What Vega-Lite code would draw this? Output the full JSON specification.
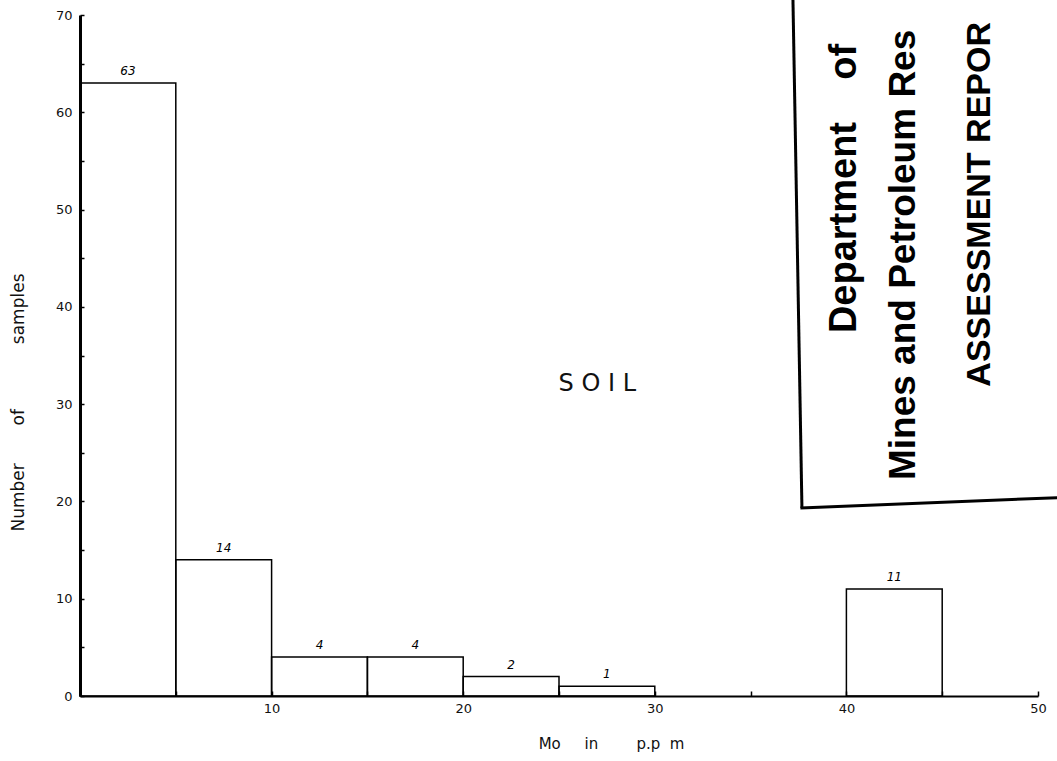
{
  "$schema": "https://vega.github.io/schema/vega-lite/v6.json",
  "width": 958,
  "height": 681,
  "autosize": {"type": "none"},
  "padding": {"left": 80, "top": 15, "right": 19, "bottom": 65},
  "background": "white",
  "config": {
    "view": {"stroke": null},
    "axis": {
      "grid": false,
      "zindex": 1,
      "labelFont": "DejaVu Sans",
      "labelFontSize": 13,
      "labelColor": "#111",
      "titleFont": "DejaVu Sans",
      "titleFontSize": 15,
      "titleFontWeight": "normal",
      "titleColor": "#111",
      "domainColor": "black",
      "tickColor": "black"
    }
  },
  "datasets": {
    "bins": [
      {"lo": 0, "hi": 5, "mid": 2.5, "count": 63},
      {"lo": 5, "hi": 10, "mid": 7.5, "count": 14},
      {"lo": 10, "hi": 15, "mid": 12.5, "count": 4},
      {"lo": 15, "hi": 20, "mid": 17.5, "count": 4},
      {"lo": 20, "hi": 25, "mid": 22.5, "count": 2},
      {"lo": 25, "hi": 30, "mid": 27.5, "count": 1},
      {"lo": 40, "hi": 45, "mid": 42.5, "count": 11}
    ]
  },
  "layer": [
    {
      "data": {"name": "bins"},
      "mark": {"type": "rect", "fill": "transparent", "stroke": "black", "strokeWidth": 1.5},
      "encoding": {
        "x": {
          "field": "lo", "type": "quantitative",
          "scale": {"domain": [0, 50], "nice": false, "zero": true},
          "axis": {
            "values": [0, 5, 10, 15, 20, 25, 30, 35, 40, 45, 50],
            "labelExpr": "datum.value % 10 == 0 && datum.value > 0 ? datum.label : ''",
            "domainWidth": 2,
            "tickSize": -5,
            "tickWidth": 1.5,
            "labelPadding": 11,
            "labelFlush": false,
            "title": "Mo\u00a0\u00a0\u00a0\u00a0\u00a0in\u00a0\u00a0\u00a0\u00a0\u00a0\u00a0\u00a0\u00a0p.p\u00a0\u00a0m",
            "titleX": 531,
            "titleY": 47,
            "titleAnchor": null,
            "titleAlign": "center",
            "titleBaseline": "middle"
          }
        },
        "x2": {"field": "hi"},
        "y": {
          "field": "count", "type": "quantitative",
          "scale": {"domain": [0, 70], "nice": false},
          "axis": {
            "values": [0, 5, 10, 15, 20, 25, 30, 35, 40, 45, 50, 55, 60, 65, 70],
            "labelExpr": "datum.value % 10 == 0 ? datum.label : ''",
            "domainWidth": 3,
            "tickSize": -4,
            "tickWidth": 1.5,
            "labelPadding": 12,
            "labelFlush": false,
            "title": "Number\u00a0\u00a0\u00a0\u00a0\u00a0\u00a0\u00a0of\u00a0\u00a0\u00a0\u00a0\u00a0\u00a0\u00a0\u00a0\u00a0\u00a0\u00a0\u00a0samples",
            "titleFontSize": 17,
            "titleX": -62,
            "titleY": 387,
            "titleAngle": -90,
            "titleAnchor": null,
            "titleAlign": "center",
            "titleBaseline": "middle"
          }
        },
        "y2": {"datum": 0}
      }
    },
    {
      "data": {"name": "bins"},
      "mark": {"type": "text", "font": "DejaVu Sans", "fontStyle": "italic", "fontSize": 12, "baseline": "bottom", "dy": -5, "color": "black"},
      "encoding": {
        "x": {"field": "mid", "type": "quantitative"},
        "y": {"field": "count", "type": "quantitative"},
        "text": {"field": "count", "type": "quantitative"}
      }
    },
    {
      "data": {"values": [{}]},
      "mark": {"type": "text", "text": "S O I L", "font": "DejaVu Sans", "fontSize": 24, "align": "center", "baseline": "middle", "color": "#111"},
      "encoding": {"x": {"datum": 27.0}, "y": {"datum": 32.1}}
    },
    {
      "data": {"values": [{}]},
      "mark": {"type": "rule", "stroke": "black", "strokeWidth": 3},
      "encoding": {"x": {"datum": 37.21}, "y": {"datum": 71.6}, "x2": {"datum": 37.68}, "y2": {"datum": 19.32}}
    },
    {
      "data": {"values": [{}]},
      "mark": {"type": "rule", "stroke": "black", "strokeWidth": 3},
      "encoding": {"x": {"datum": 37.6}, "y": {"datum": 19.32}, "x2": {"datum": 51.2}, "y2": {"datum": 20.4}}
    },
    {
      "data": {"values": [{}]},
      "mark": {"type": "text", "text": "Department\u00a0\u00a0\u00a0\u00a0of", "font": "Liberation Sans", "fontWeight": "bold", "fontSize": 38, "angle": 270, "align": "left", "baseline": "alphabetic", "color": "black"},
      "encoding": {"x": {"datum": 40.5}, "y": {"datum": 37.3}}
    },
    {
      "data": {"values": [{}]},
      "mark": {"type": "text", "text": "Mines and Petroleum Res", "font": "Liberation Sans", "fontWeight": "bold", "fontSize": 37, "angle": 270, "align": "left", "baseline": "alphabetic", "color": "black"},
      "encoding": {"x": {"datum": 43.6}, "y": {"datum": 22.2}}
    },
    {
      "data": {"values": [{}]},
      "mark": {"type": "text", "text": "ASSESSMENT REPOR", "font": "Liberation Sans", "fontWeight": "bold", "fontSize": 34, "angle": 270, "align": "left", "baseline": "alphabetic", "color": "black"},
      "encoding": {"x": {"datum": 47.5}, "y": {"datum": 31.8}}
    }
  ]
}
